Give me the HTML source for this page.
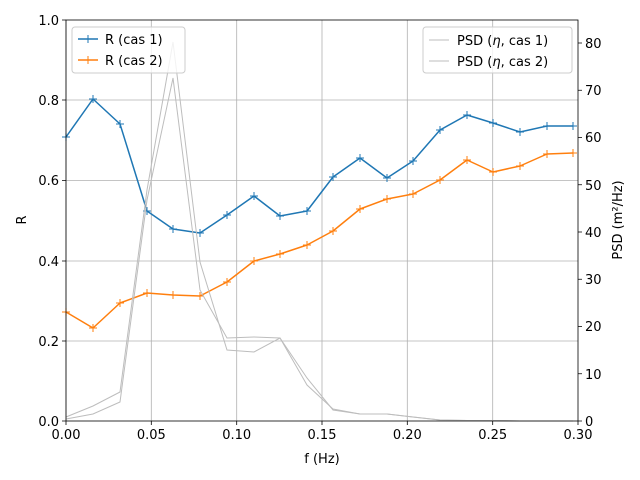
<!DOCTYPE html>
<html><head><meta charset="utf-8"><style>body{margin:0;background:#fff}svg{display:block}text{font-family:"DejaVu Sans","Liberation Sans",sans-serif;font-size:13px;fill:#000}</style></head><body>
<svg width="640" height="480" xmlns="http://www.w3.org/2000/svg">
<rect width="640" height="480" fill="#fff"/>
<g stroke="#b0b0b0" stroke-width="0.8">
<line x1="66" y1="20" x2="66" y2="421"/><line x1="151.3" y1="20" x2="151.3" y2="421"/><line x1="236.7" y1="20" x2="236.7" y2="421"/><line x1="322" y1="20" x2="322" y2="421"/><line x1="407.3" y1="20" x2="407.3" y2="421"/><line x1="492.7" y1="20" x2="492.7" y2="421"/>
<line x1="66" y1="341" x2="578" y2="341"/><line x1="66" y1="261" x2="578" y2="261"/><line x1="66" y1="180.5" x2="578" y2="180.5"/><line x1="66" y1="100" x2="578" y2="100"/>
</g>
<g fill="none" stroke-width="1.5" stroke-linejoin="round">
<polyline stroke="#1f77b4" points="66,137 93,99 120,124 147,211 173,229 200,233 227,215 254,196 280,216 307,211 333,177 360,158 387,178 413,161 440,130 467,115 493,123 520,132 547,126 573,126"/>
<polyline stroke="#ff7f0e" points="66,312 93,328 120,303 147,293 173,295 200,296 227,282 254,261 280,254 307,245 333,231 360,209 387,199 413,194 440,180 467,160 493,172 520,166 547,154 573,153"/>
</g>
<g stroke="#1f77b4" stroke-width="1"><path d="M62,137h8M66,133v8M89,99h8M93,95v8M116,124h8M120,120v8M143,211h8M147,207v8M169,229h8M173,225v8M196,233h8M200,229v8M223,215h8M227,211v8M250,196h8M254,192v8M276,216h8M280,212v8M303,211h8M307,207v8M329,177h8M333,173v8M356,158h8M360,154v8M383,178h8M387,174v8M409,161h8M413,157v8M436,130h8M440,126v8M463,115h8M467,111v8M489,123h8M493,119v8M516,132h8M520,128v8M543,126h8M547,122v8M569,126h8M573,122v8"/></g>
<g stroke="#ff7f0e" stroke-width="1"><path d="M62,312h8M66,308v8M89,328h8M93,324v8M116,303h8M120,299v8M143,293h8M147,289v8M169,295h8M173,291v8M196,296h8M200,292v8M223,282h8M227,278v8M250,261h8M254,257v8M276,254h8M280,250v8M303,245h8M307,241v8M329,231h8M333,227v8M356,209h8M360,205v8M383,199h8M387,195v8M409,194h8M413,190v8M436,180h8M440,176v8M463,160h8M467,156v8M489,172h8M493,168v8M516,166h8M520,162v8M543,154h8M547,150v8M569,153h8M573,149v8"/></g>
<g fill="none" stroke="#bdbdbd" stroke-width="1">
<polyline points="66,417 93,406 120,392 147,190 173,42 200,262 227,350 254,352 280,338 307,378 333,410 360,414 387,414 413,417 440,420 467,420.5 493,420.5 520,421 547,421 573,421"/>
<polyline points="66,419 93,414 120,402 147,200 173,78 200,290 227,338 254,337 280,338 307,385 333,409 360,414 387,414 413,417 440,420 467,420.5 493,420.5 520,421 547,421 573,421"/>
</g>
<rect x="66" y="20" width="512" height="401" fill="none" stroke="#000" stroke-width="0.8"/>
<g stroke="#000" stroke-width="0.8">
<path d="M66,421v4M151.3,421v4M236.7,421v4M322,421v4M407.3,421v4M492.7,421v4M578,421v4"/>
<path d="M66,421h-4M66,341h-4M66,261h-4M66,180.5h-4M66,100h-4M66,20h-4"/>
<path d="M578,421h4M578,373.75h4M578,326.5h4M578,279.25h4M578,232h4M578,184.75h4M578,137.5h4M578,90.25h4M578,43h4"/>
</g>
<g text-anchor="middle">
<text x="66" y="439">0.00</text><text x="151.3" y="439">0.05</text><text x="236.7" y="439">0.10</text><text x="322" y="439">0.15</text><text x="407.3" y="439">0.20</text><text x="492.7" y="439">0.25</text><text x="578" y="439">0.30</text>
<text x="322" y="463">f (Hz)</text>
</g>
<g text-anchor="end">
<text x="59" y="426">0.0</text><text x="59" y="346">0.2</text><text x="59" y="266">0.4</text><text x="59" y="185">0.6</text><text x="59" y="105">0.8</text><text x="59" y="25">1.0</text>
</g>
<g>
<text x="585" y="426">0</text><text x="585" y="379">10</text><text x="585" y="331">20</text><text x="585" y="284">30</text><text x="585" y="237">40</text><text x="585" y="190">50</text><text x="585" y="142">60</text><text x="585" y="95">70</text><text x="585" y="48">80</text>
</g>
<text transform="translate(26,220) rotate(-90)" text-anchor="middle">R</text>
<text transform="translate(622,220) rotate(-90)" text-anchor="middle">PSD (m²/Hz)</text>
<rect x="72" y="27" width="113" height="46" rx="3" fill="#fff" fill-opacity="0.8" stroke="#ccc"/>
<line x1="78" y1="39" x2="98" y2="39" stroke="#1f77b4" stroke-width="1.5"/><path d="M84,39h8M88,35v8" stroke="#1f77b4"/>
<text x="105" y="44">R (cas 1)</text>
<line x1="78" y1="60" x2="98" y2="60" stroke="#ff7f0e" stroke-width="1.5"/><path d="M84,60h8M88,56v8" stroke="#ff7f0e"/>
<text x="105" y="65">R (cas 2)</text>
<rect x="423" y="27" width="149" height="46" rx="3" fill="#fff" fill-opacity="0.8" stroke="#ccc"/>
<line x1="429" y1="40" x2="449" y2="40" stroke="#bdbdbd"/>
<text x="457" y="45">PSD (<tspan font-style="italic">η</tspan>, cas 1)</text>
<line x1="429" y1="61" x2="449" y2="61" stroke="#bdbdbd"/>
<text x="457" y="66">PSD (<tspan font-style="italic">η</tspan>, cas 2)</text>
</svg>
</body></html>
